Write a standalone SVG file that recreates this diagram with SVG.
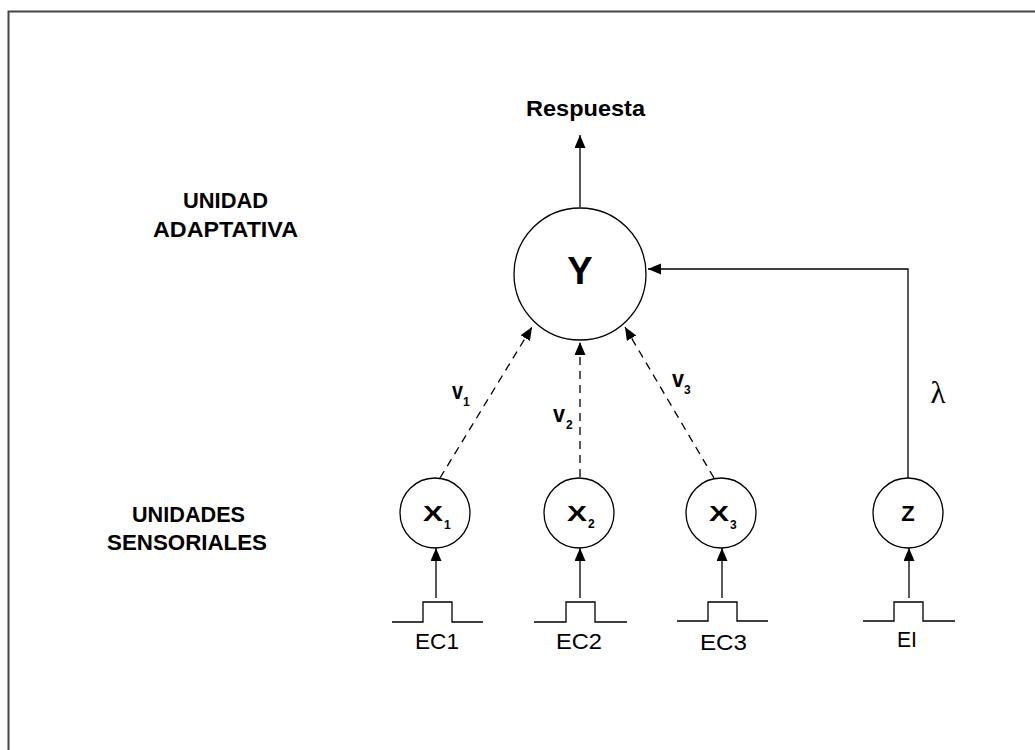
<svg xmlns="http://www.w3.org/2000/svg" width="1035" height="750" viewBox="0 0 1035 750">
<defs>
<marker id="ah" markerUnits="userSpaceOnUse" markerWidth="15" markerHeight="13" refX="13" refY="5.5" orient="auto"><path d="M0,0 L13,5.5 L0,11 Z" fill="#000"/></marker>
</defs>
<style>
.b{font-family:"Liberation Sans",Arial,sans-serif;font-weight:bold;fill:#000}
.r{font-family:"Liberation Sans",Arial,sans-serif;fill:#000}
.n{fill:#fff;stroke:#000;stroke-width:1.3}
.c{stroke:#000;stroke-width:1.3;fill:none}
.d{stroke:#000;stroke-width:1.3;fill:none;stroke-dasharray:8 6}
</style>
<rect x="0" y="0" width="1035" height="750" fill="#fff"/>
<rect x="8.5" y="11.5" width="1040" height="760" fill="none" stroke="#444" stroke-width="2"/>
<text class="b" x="183" y="208" font-size="22" textLength="85" lengthAdjust="spacingAndGlyphs">UNIDAD</text>
<text class="b" x="153" y="237" font-size="22" textLength="145" lengthAdjust="spacingAndGlyphs">ADAPTATIVA</text>
<text class="b" x="132" y="522" font-size="22" textLength="113" lengthAdjust="spacingAndGlyphs">UNIDADES</text>
<text class="b" x="107" y="550" font-size="22" textLength="160" lengthAdjust="spacingAndGlyphs">SENSORIALES</text>
<text class="b" x="526" y="116" font-size="22" textLength="119" lengthAdjust="spacingAndGlyphs">Respuesta</text>
<g id="connectors">
<line class="c" x1="580" y1="207" x2="580" y2="135" marker-end="url(#ah)"/>
<polyline class="c" points="908,478 908,269 648,269" marker-end="url(#ah)"/>
<line class="d" x1="440" y1="478" x2="532" y2="327" marker-end="url(#ah)"/>
<line class="d" x1="580" y1="477" x2="580" y2="342" marker-end="url(#ah)"/>
<line class="d" x1="714" y1="478" x2="625" y2="327" marker-end="url(#ah)"/>
<line class="c" x1="436" y1="598" x2="436" y2="548" marker-end="url(#ah)"/>
<line class="c" x1="580" y1="598" x2="580" y2="548" marker-end="url(#ah)"/>
<line class="c" x1="722" y1="598" x2="722" y2="548" marker-end="url(#ah)"/>
<line class="c" x1="909" y1="598" x2="909" y2="548" marker-end="url(#ah)"/>
<text class="b" x="452" y="399" font-size="23" textLength="11" lengthAdjust="spacingAndGlyphs">v</text><text class="b" x="463" y="406" font-size="12">1</text>
<text class="b" x="553" y="422" font-size="23" textLength="12" lengthAdjust="spacingAndGlyphs">v</text><text class="b" x="566" y="429" font-size="12">2</text>
<text class="b" x="672" y="387" font-size="23" textLength="12" lengthAdjust="spacingAndGlyphs">v</text><text class="b" x="684" y="394" font-size="12">3</text>
<text x="938" y="403" font-size="31" text-anchor="middle" font-family="'Liberation Serif','Times New Roman',serif">λ</text>
</g>
<g id="Y"><circle class="n" cx="580" cy="274" r="66"/><text class="b" x="580" y="284" font-size="38" text-anchor="middle">Y</text></g>
<g id="X1"><circle class="n" cx="435" cy="513" r="35"/><text class="b" x="423" y="521" font-size="22" textLength="20" lengthAdjust="spacingAndGlyphs">X</text><text class="b" x="444" y="529" font-size="12">1</text></g>
<g id="X2"><circle class="n" cx="579" cy="513" r="35"/><text class="b" x="567" y="521" font-size="22" textLength="20" lengthAdjust="spacingAndGlyphs">X</text><text class="b" x="588" y="528" font-size="12">2</text></g>
<g id="X3"><circle class="n" cx="721" cy="513" r="35"/><text class="b" x="709" y="521" font-size="22" textLength="20" lengthAdjust="spacingAndGlyphs">X</text><text class="b" x="730" y="529" font-size="12">3</text></g>
<g id="Z"><circle class="n" cx="908" cy="513" r="35"/><text class="b" x="908" y="521" font-size="22" text-anchor="middle">Z</text></g>
<g id="EC1"><polyline class="c" points="392,622 423,622 423,602 452,602 452,622 483,622"/><text class="r" x="415" y="649" font-size="22" textLength="44" lengthAdjust="spacingAndGlyphs">EC1</text></g>
<g id="EC2"><polyline class="c" points="534,622 566,622 566,602 595,602 595,622 627,622"/><text class="r" x="556" y="649" font-size="22" textLength="46" lengthAdjust="spacingAndGlyphs">EC2</text></g>
<g id="EC3"><polyline class="c" points="677,621 708,621 708,602 737,602 737,621 768,621"/><text class="r" x="700" y="650" font-size="22" textLength="47" lengthAdjust="spacingAndGlyphs">EC3</text></g>
<g id="EI"><polyline class="c" points="863,621 894,621 894,602 923,602 923,621 955,621"/><text class="r" x="897" y="647" font-size="22" textLength="20" lengthAdjust="spacingAndGlyphs">EI</text></g>
</svg>
